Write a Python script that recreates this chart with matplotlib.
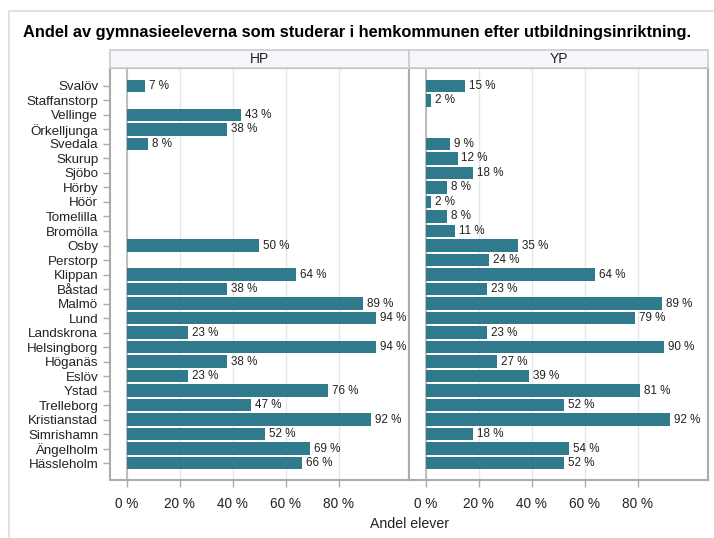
import numpy as np
import matplotlib
matplotlib.use("Agg")
import matplotlib.pyplot as plt
from matplotlib.patches import Rectangle

plt.rcParams['font.family'] = ['Liberation Sans', 'DejaVu Sans']

kommuner = ["Svalöv", "Staffanstorp", "Vellinge", "Örkelljunga", "Svedala", "Skurup",
            "Sjöbo", "Hörby", "Höör", "Tomelilla", "Bromölla", "Osby", "Perstorp",
            "Klippan", "Båstad", "Malmö", "Lund", "Landskrona", "Helsingborg",
            "Höganäs", "Eslöv", "Ystad", "Trelleborg", "Kristianstad", "Simrishamn",
            "Ängelholm", "Hässleholm"]
hp = [7, np.nan, 43, 38, 8, np.nan, np.nan, np.nan, np.nan, np.nan, np.nan, 50, np.nan,
      64, 38, 89, 94, 23, 94, 38, 23, 76, 47, 92, 52, 69, 66]
yp = [15, 2, np.nan, np.nan, 9, 12, 18, 8, 2, 8, 11, 35, 24,
      64, 23, 89, 79, 23, 90, 27, 39, 81, 52, 92, 18, 54, 52]
paneler = ["HP", "YP"]
xticks = [0, 20, 40, 60, 80]

bar_color = '#2f7a8c'
W, H = 714, 538
fig = plt.figure(figsize=(W / 100, H / 100), dpi=100)

# ram runt figuren
fig.patches.append(Rectangle((9 / W, -0.1), 1.2, 0.1 + 1 - 11 / H, transform=fig.transFigure,
                             fill=False, edgecolor='#dddddd', linewidth=1.2))

fig.text(0.5, 1 - 33 / H, "Andel av gymnasieeleverna som studerar i hemkommunen efter utbildningsinriktning.",
         ha='center', va='center', fontsize=11.8, fontweight='bold')

bottom = 1 - 480 / H
top = 1 - 68 / H
lefts = [110 / W, 409 / W]
width = 299 / W
y = np.arange(len(kommuner))

for i, (namn, vals) in enumerate(zip(paneler, [hp, yp])):
    ax = fig.add_axes([lefts[i], bottom, width, top - bottom])
    ax.barh(y, vals, height=0.87, color=bar_color, zorder=3)
    for yy, v in zip(y, vals):
        if not np.isnan(v):
            ax.text(v + 1.5, yy, f"{v:.0f} %", va='center', ha='left', fontsize=8.4,
                    color='#222222', zorder=4)
    ax.set_xlim(-6.3, 106.5)
    ax.set_ylim(len(kommuner) - 1 + 1.17, -1.24)
    ax.set_xticks(xticks)
    ax.set_xticklabels([f"{t} %" for t in xticks], fontsize=9.8)
    ax.grid(axis='x', color='#e6e6e6', linewidth=1, zorder=0)
    ax.axvline(0, color='#b4b4b4', linewidth=1.2, zorder=2)
    for s in ax.spines.values():
        s.set_color('#a8acb0')
        s.set_linewidth(1.5)
    ax.tick_params(axis='x', colors='#a8acb0', labelcolor='#222222', length=5, width=1, pad=7)
    if i == 0:
        ax.set_yticks(y)
        ax.set_yticklabels(kommuner, fontsize=9.6)
        ax.tick_params(axis='y', colors='#a8acb0', labelcolor='#222222', length=5, width=1)
    else:
        ax.set_yticks([])
    # rubrikremsa
    strip = Rectangle((lefts[i], top), width, 18 / H, transform=fig.transFigure,
                      facecolor='#f6f7fc', edgecolor='#cccccc', linewidth=1.2)
    fig.patches.append(strip)
    fig.text(lefts[i] + width / 2, top + 9 / H, namn, ha='center', va='center', fontsize=10,
             color='#222222')

fig.text((110 + 708) / 2 / W, 1 - 524 / H, "Andel elever", ha='center', va='center',
         fontsize=10.2, color='#222222')

fig.savefig("out.png", dpi=100)
